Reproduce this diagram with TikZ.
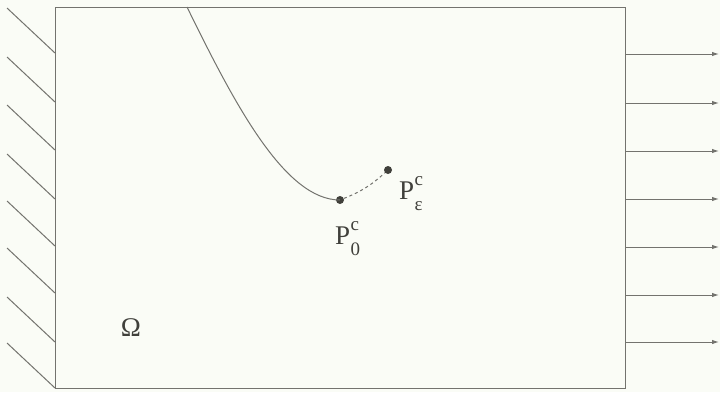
\documentclass[tikz,border=0pt]{standalone}
\usepackage{fontspec}
\setmainfont{Liberation Serif}
\usetikzlibrary{arrows.meta}
\definecolor{bgc}{rgb}{0.98,0.99,0.965}
\definecolor{lnc}{rgb}{0.45,0.45,0.43}
\definecolor{txc}{rgb}{0.25,0.25,0.23}
\newcommand{\PlabX}[1]{P\kern0.5pt\makebox[0pt][l]{\raisebox{0.5em}{\fontsize{19}{19}\selectfont c}}\raisebox{-0.42em}{\fontsize{19}{19}\selectfont #1}}
\begin{document}
\begin{tikzpicture}[x=1pt,y=-1pt,
  edge/.style={draw=lnc,line width=1pt},
  hatch/.style={draw=lnc,line width=1pt},
  load/.style={draw=lnc,line width=1pt,-{Latex[length=7pt,width=4.5pt]}},
  dot/.style={circle,fill=txc,inner sep=0pt,minimum size=8pt},
  lbl/.style={text=txc,font=\fontsize{27}{31}\selectfont,inner sep=0pt}]
\fill[bgc] (0,0) rectangle (720,392);
\useasboundingbox (0,0) rectangle (720,392);
\draw[edge] (55,7) rectangle (625,388);
\foreach \y [count=\i] in {53,102,150,199,246,293,342,388}{
  \coordinate (h\i) at (55,\y);
  \coordinate (hs\i) at (7,\y-45);
  \draw[hatch] (hs\i) -- (h\i);
}
\foreach \y [count=\i] in {54,103,151,199,247,295,342}{
  \coordinate (a\i) at (625,\y);
  \coordinate (b\i) at (719,\y);
  \draw[load] (a\i) -- (b\i);
}
\coordinate (top) at (187,7);
\node[dot] (P0) at (340,200) {};
\node[dot] (Pe) at (388,170) {};
\draw[edge] (top) .. controls (235,105) and (285,200) .. (P0.center);
\draw[edge,dash pattern=on 3pt off 3pt] (P0) to[bend right=10] (Pe);
\node[lbl,anchor=base west] (L0) at (335,244) {\PlabX{0}};
\node[lbl,anchor=base west] (Le) at (399,199) {\PlabX{ε}};
\node[lbl] (Om) at (131,328) {Ω};
\end{tikzpicture}
\end{document}
